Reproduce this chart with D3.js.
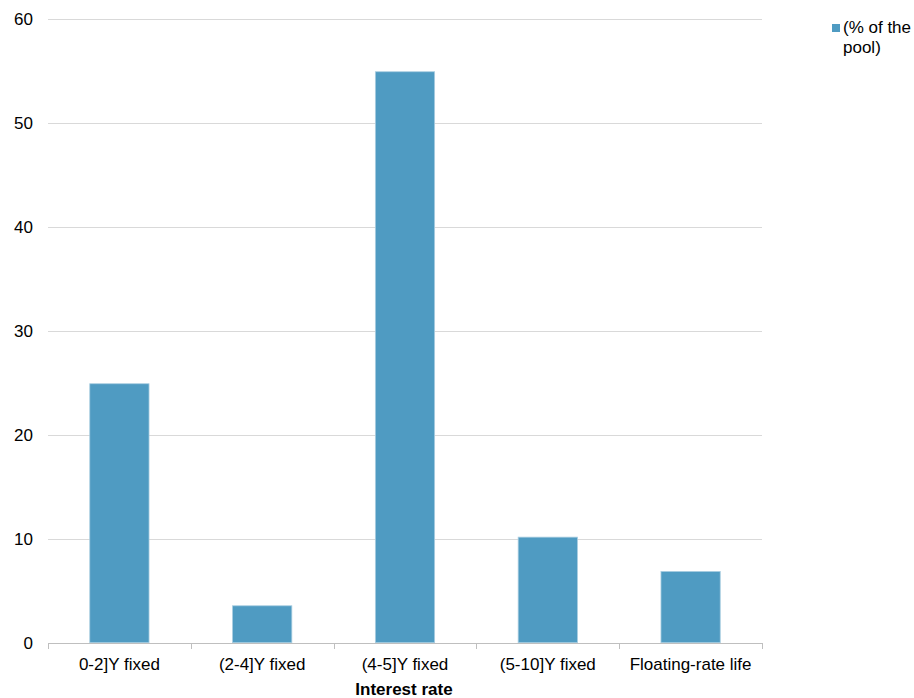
<!DOCTYPE html>
<html>
<head>
<meta charset="utf-8">
<script src="https://cdn.jsdelivr.net/npm/d3@7"></script>
<style>
  body { margin: 0; background: #fff; }
  svg text { font-family: "Liberation Sans", Arial, sans-serif; fill: #000; }
</style>
</head>
<body>
<svg id="chart" width="914" height="698"></svg>
<script>
// Share of the pool by interest-rate type
const categories = ["0-2]Y fixed", "(2-4]Y fixed", "(4-5]Y fixed", "(5-10]Y fixed", "Floating-rate life"];
const poolShare = [24.9, 3.55, 54.9, 10.15, 6.85];
const yTicks = [0, 10, 20, 30, 40, 50, 60];
const seriesName = ["(% of the", "pool)"];
const xTitle = "Interest rate";

const svg = d3.select("#chart");
const plotLeft = 48, plotRight = 762, plotTop = 18.7, plotBottom = 642.7;
const fontSize = 17;

const x = d3.scaleBand().domain(categories).range([plotLeft, plotRight]).paddingInner(0.585).paddingOuter(0.2925);
const y = d3.scaleLinear().domain([0, 60]).range([plotBottom, plotTop]);

// gridlines
svg.append("g").selectAll("line").data(yTicks.filter(d => d > 0)).join("line")
  .attr("x1", plotLeft).attr("x2", plotRight)
  .attr("y1", d => Math.round(y(d)) + 0.5).attr("y2", d => Math.round(y(d)) + 0.5)
  .attr("stroke", "#d9d9d9").attr("stroke-width", 1);

// y tick labels
svg.append("g").selectAll("text").data(yTicks).join("text")
  .attr("x", 33).attr("y", d => y(d)).attr("dy", "0.35em")
  .attr("text-anchor", "end").attr("font-size", fontSize).text(d => d);

// bars
svg.append("g").selectAll("rect").data(categories).join("rect")
  .attr("x", d => x(d)).attr("width", x.bandwidth())
  .attr("y", (d, i) => y(poolShare[i])).attr("height", (d, i) => y(0) - y(poolShare[i]))
  .attr("fill", "#4f9bc2").attr("stroke", "#a9cde0").attr("stroke-width", 0.8);

// x axis line with ticks at band boundaries
const boundaries = d3.range(categories.length + 1).map(i => plotLeft + i * (plotRight - plotLeft) / categories.length);
const ax = svg.append("g");
ax.append("line").attr("x1", plotLeft).attr("x2", plotRight)
  .attr("y1", Math.round(plotBottom) + 0.5).attr("y2", Math.round(plotBottom) + 0.5)
  .attr("stroke", "#bfbfbf").attr("stroke-width", 1);
ax.selectAll("line.tick").data(boundaries).join("line").attr("class", "tick")
  .attr("x1", d => Math.round(d) + 0.5).attr("x2", d => Math.round(d) + 0.5)
  .attr("y1", Math.round(plotBottom)).attr("y2", Math.round(plotBottom) + 6)
  .attr("stroke", "#bfbfbf").attr("stroke-width", 1);

// category labels
svg.append("g").selectAll("text").data(categories).join("text")
  .attr("x", d => x(d) + x.bandwidth() / 2).attr("y", 670)
  .attr("text-anchor", "middle").attr("font-size", fontSize).text(d => d);

// axis title
svg.append("text").attr("x", (plotLeft + plotRight) / 2 - 1).attr("y", 695)
  .attr("text-anchor", "middle").attr("font-size", fontSize).attr("font-weight", "bold").text(xTitle);

// legend
const lg = svg.append("g");
lg.append("rect").attr("x", 832).attr("y", 24).attr("width", 8).attr("height", 8).attr("fill", "#4f9bc2");
lg.selectAll("text").data(seriesName).join("text")
  .attr("x", 843).attr("y", (d, i) => 33 + i * 20).attr("font-size", fontSize).text(d => d);
</script>
</body>
</html>
